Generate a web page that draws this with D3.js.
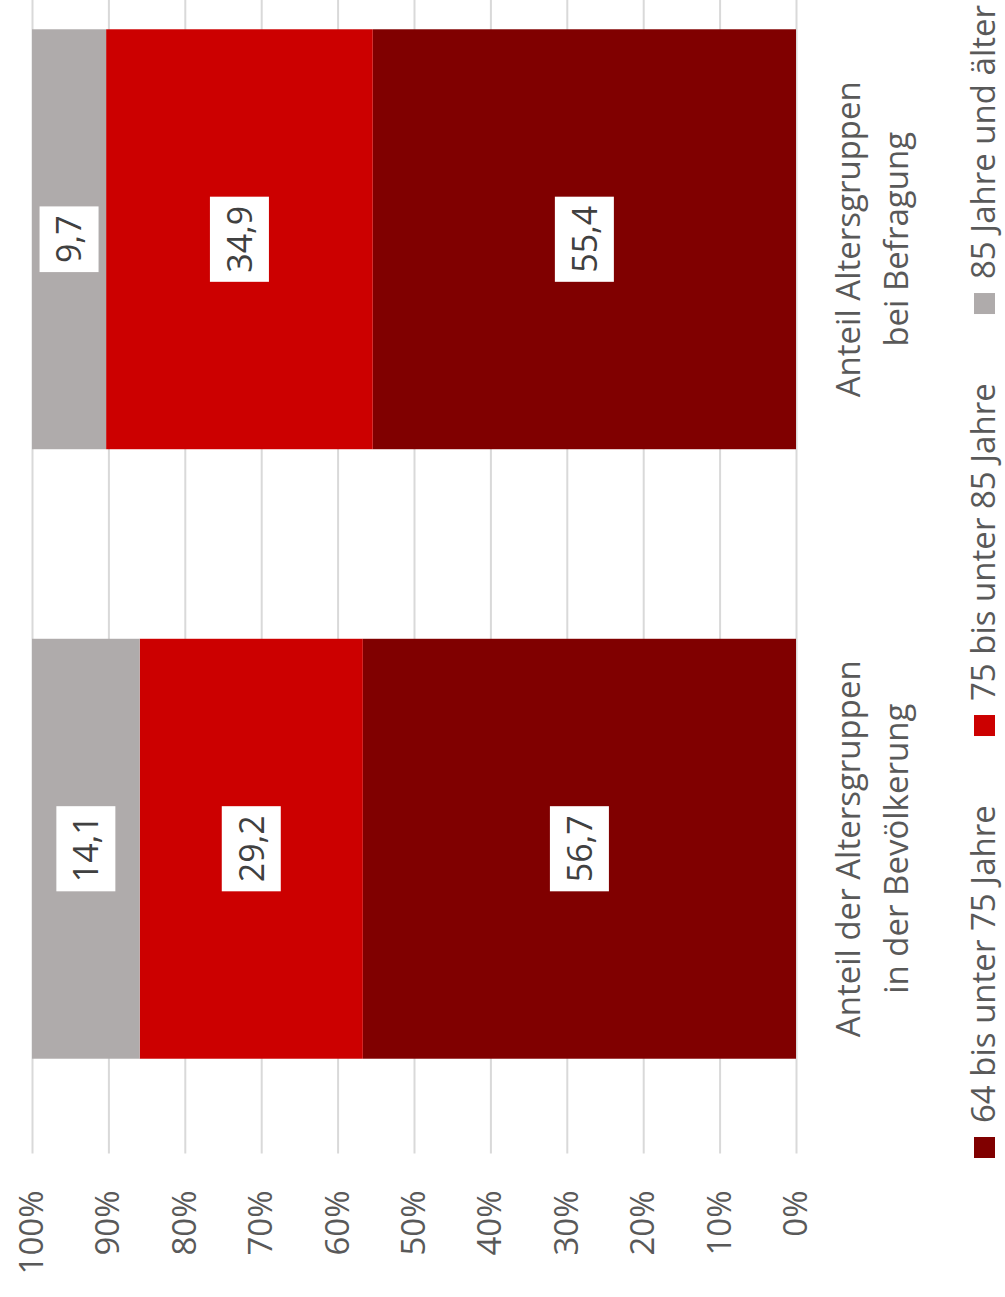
<!DOCTYPE html>
<html lang="de">
<head>
<meta charset="utf-8">
<script src="https://cdn.jsdelivr.net/npm/d3@7"></script>
<style>
  html, body { margin: 0; padding: 0; background: #ffffff; }
  svg { display: block; }
  text { font-family: "Open Sans", "Noto Sans", sans-serif; }
</style>
</head>
<body>
<svg id="chart" width="1005" height="1297"></svg>
<script>
// Categories (first category is drawn nearest the axis labels)
const categories = ["Bevölkerung", "Befragung"];
const categoryLines = [
  ["Anteil der Altersgruppen", "in der Bevölkerung"],
  ["Anteil Altersgruppen", "bei Befragung"]
];

// Age groups (stack order from the 0% baseline outwards)
const seriesNames = ["64 bis unter 75 Jahre", "75 bis unter 85 Jahre", "85 Jahre und älter"];
const seriesColors = ["#800000", "#cc0000", "#afabab"];

// Shares in percent per category
const young = [56.7, 55.4];
const middle = [29.2, 34.9];
const old = [14.1, 9.7];

// Value axis ticks
const tickValues = [0, 10, 20, 30, 40, 50, 60, 70, 80, 90, 100];

const rows = categories.map((c, i) => ({
  cat: c,
  [seriesNames[0]]: young[i],
  [seriesNames[1]]: middle[i],
  [seriesNames[2]]: old[i]
}));

const svg = d3.select("#chart");
const W = 1297;   // length of the chart in its own (rotated) frame
const g = svg.append("g").attr("transform", `translate(0,${W}) rotate(-90)`);

// Scales in the chart frame: u runs along categories, v along values
const u = d3.scaleBand()
  .domain(categories)
  .range([143.5, 1362.5])
  .paddingInner(0.311)
  .paddingOuter(0.1555);

const v = d3.scaleLinear().domain([0, 100]).range([796, 32]);

const color = d3.scaleOrdinal().domain(seriesNames).range(seriesColors);

// Gridlines and tick labels
const axis = d3.axisLeft(v)
  .tickValues(tickValues)
  .tickFormat(d => d + "%")
  .tickSizeInner(-(1362.5 - 143.5))
  .tickSizeOuter(0)
  .tickPadding(37);

const ax = g.append("g")
  .attr("transform", `translate(${u.range()[0]},0)`)
  .call(axis);
ax.select(".domain").remove();
ax.selectAll(".tick line").attr("stroke", "#d9d9d9").attr("stroke-width", 2);
ax.selectAll(".tick text")
  .attr("fill", "#595959")
  .style("font-size", "33px");

// Stacked bars
const stack = d3.stack().keys(seriesNames);
const layers = stack(rows);

g.append("g").selectAll("g")
  .data(layers)
  .join("g")
  .attr("fill", d => color(d.key))
  .selectAll("rect")
  .data(d => d)
  .join("rect")
  .attr("x", d => u(d.data.cat))
  .attr("width", u.bandwidth())
  .attr("y", d => v(d[1]))
  .attr("height", d => v(d[0]) - v(d[1]));

// Value labels in white boxes
const labels = g.append("g");
layers.forEach(layer => {
  layer.forEach(d => {
    const cx = u(d.data.cat) + u.bandwidth() / 2;
    const cy = (v(d[0]) + v(d[1])) / 2;
    const val = d[1] - d[0];
    const grp = labels.append("g");
    const t = grp.append("text")
      .attr("x", cx)
      .attr("y", cy)
      .attr("text-anchor", "middle")
      .attr("dy", "0.36em")
      .attr("fill", "#404040")
      .style("font-size", "34px")
      .text(d3.format(".1f")(val).replace(".", ","));
    const len = t.node().getComputedTextLength();
    grp.insert("rect", "text")
      .attr("x", cx - len / 2 - 9)
      .attr("width", len + 18)
      .attr("y", cy - 29.5)
      .attr("height", 59)
      .attr("fill", "#ffffff");
  });
});

// Category labels below the baseline
const catG = g.append("g");
categories.forEach((c, i) => {
  const cx = u(c) + u.bandwidth() / 2;
  categoryLines[i].forEach((line, j) => {
    catG.append("text")
      .attr("x", cx)
      .attr("y", 860 + j * 48)
      .attr("text-anchor", "middle")
      .attr("fill", "#595959")
      .style("font-size", "33px")
      .text(line);
  });
});

// Legend
const legend = g.append("g");
const swatch = 21, swGap = 14;
const items = seriesNames.map(name => {
  const t = legend.append("text")
    .attr("fill", "#595959")
    .style("font-size", "33px")
    .attr("y", 995)
    .text(name);
  return { name, t, len: t.node().getComputedTextLength() };
});
const legStart = 139, legEnd = 1292;
const used = d3.sum(items, d => swatch + swGap + d.len);
const gap = (legEnd - legStart - used) / (items.length - 1);
let pos = legStart;
items.forEach(it => {
  legend.append("rect")
    .attr("x", pos)
    .attr("y", 974)
    .attr("width", swatch)
    .attr("height", swatch)
    .attr("fill", color(it.name));
  it.t.attr("x", pos + swatch + swGap);
  pos += swatch + swGap + it.len + gap;
});
</script>
</body>
</html>
